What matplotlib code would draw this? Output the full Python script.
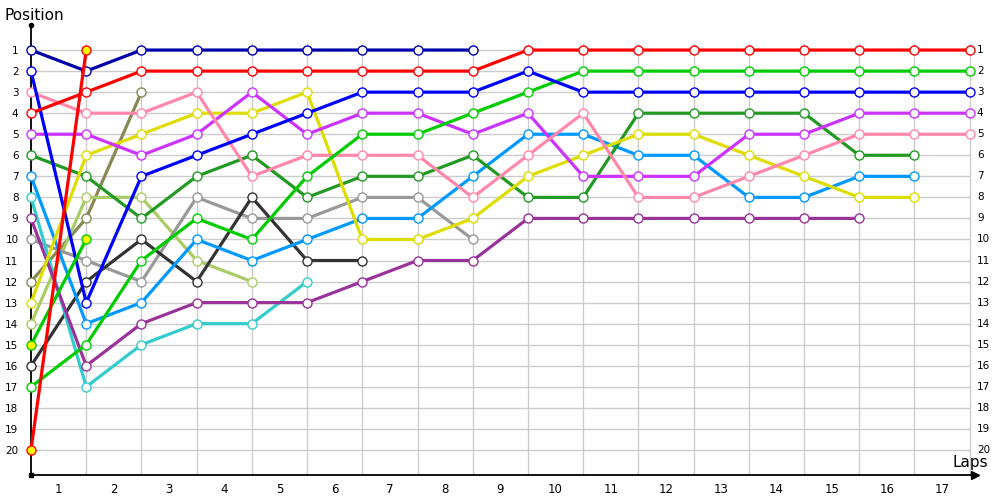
import matplotlib
matplotlib.use("Agg")
import matplotlib.pyplot as plt

# lap index 0 = grid (start), then laps 1..17
navy = [1, 2, 1, 1, 1, 1, 1, 1, 1]
red = [4, 3, 2, 2, 2, 2, 2, 2, 2, 1, 1, 1, 1, 1, 1, 1, 1, 1]
blue = [2, 13, 7, 6, 5, 4, 3, 3, 3, 2, 3, 3, 3, 3, 3, 3, 3, 3]
green = [17, 15, 11, 9, 10, 7, 5, 5, 4, 3, 2, 2, 2, 2, 2, 2, 2, 2]
pink = [3, 4, 4, 3, 7, 6, 6, 6, 8, 6, 4, 8, 8, 7, 6, 5, 5, 5]
violet = [5, 5, 6, 5, 3, 5, 4, 4, 5, 4, 7, 7, 7, 5, 5, 4, 4, 4]
yellow = [13, 6, 5, 4, 4, 3, 10, 10, 9, 7, 6, 5, 5, 6, 7, 8, 8]
dkgreen = [6, 7, 9, 7, 6, 8, 7, 7, 6, 8, 8, 4, 4, 4, 4, 6, 6]
ltblue = [7, 14, 13, 10, 11, 10, 9, 9, 7, 5, 5, 6, 6, 8, 8, 7, 7]
purple = [9, 16, 14, 13, 13, 13, 12, 11, 11, 9, 9, 9, 9, 9, 9, 9]
cyan = [8, 17, 15, 14, 14, 12]
black = [16, 12, 10, 12, 8, 11, 11]
gray = [10, 11, 12, 8, 9, 9, 8, 8, 10]
ltgreen = [14, 8, 8, 11, 12]
olive = [12, 9, 3]
green_b = [15, 10]
red_b = [20, 1]

series = [
    (olive, "#888855", "white"),
    (ltgreen, "#AACC66", "white"),
    (gray, "#999999", "white"),
    (black, "#333333", "white"),
    (cyan, "#33CCCC", "white"),
    (purple, "#993399", "white"),
    (ltblue, "#0099FF", "white"),
    (dkgreen, "#229922", "white"),
    (yellow, "#DDDD00", "white"),
    (violet, "#CC33FF", "white"),
    (pink, "#FF88AA", "white"),
    (green, "#00CC00", "white"),
    (blue, "#0000FF", "white"),
    (red, "#FF0000", "white"),
    (navy, "#0000AA", "white"),
    (green_b, "#00CC00", "#FFFF00"),
    (red_b, "#FF0000", "#FFFF00"),
]

laps = list(range(1, 18))
positions = list(range(1, 21))

fig = plt.figure(figsize=(10, 5), dpi=100)
ax = fig.add_axes([0.031, 0.05, 0.947, 0.90])
ax.set_xlim(0, 17.15)
ax.set_ylim(21.19, -0.19)

# grid
ax.hlines(positions, 0, 17, color="#cccccc", lw=1, zorder=0)
ax.vlines(range(1, 18), 0.67, 21.19, color="#cccccc", lw=1, zorder=0)

for vals, col, face in series:
    ax.plot(range(len(vals)), vals, color=col, lw=2.3, marker="o", ms=6.5,
            mfc=face, mec=col, mew=1, zorder=3, clip_on=False)

# axes
for s in ["top", "right"]:
    ax.spines[s].set_visible(False)
ax.spines["left"].set_linewidth(1.3)
ax.spines["bottom"].set_linewidth(1.3)
ax.plot([0], [-0.19], marker="o", ms=3, color="black", clip_on=False)
ax.plot([0], [21.19], marker="s", ms=3, color="black", clip_on=False)
ax.plot([17.1], [21.19], marker=">", ms=6, color="black", clip_on=False)

ax.set_yticks(positions)
ax.set_yticklabels([str(p) for p in positions], fontsize=7.5)
ax.tick_params(axis="y", length=0, pad=9)
ax.set_xticks([l - 0.5 for l in laps])
ax.set_xticklabels([str(l) for l in laps], fontsize=8.5)
ax.tick_params(axis="x", length=0, pad=6)

for p in positions:
    ax.text(17.13, p, str(p), fontsize=7.5, va="center", ha="left")

fig.text(0.005, 0.968, "Position", fontsize=11, ha="left", va="center")
fig.text(0.988, 0.074, "Laps", fontsize=11, ha="right", va="center")

fig.savefig("out.png", dpi=100)
